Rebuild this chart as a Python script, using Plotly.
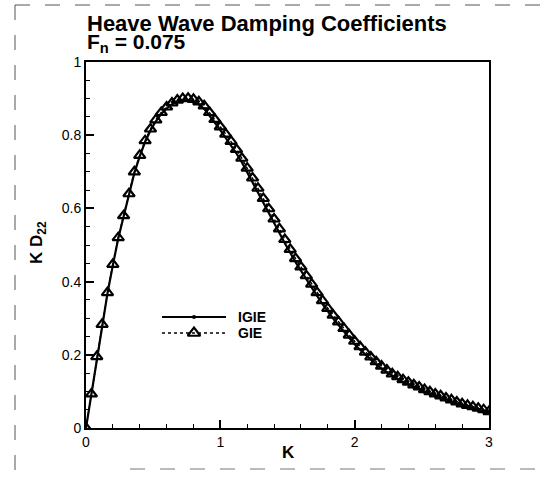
import plotly.graph_objects as go

# ---------------- data ----------------
k_values = [round(0.04 * i, 2) for i in range(76)]
gie = [0.000, 0.093, 0.195, 0.283, 0.370, 0.447, 0.520, 0.580, 0.640, 0.700,
       0.745, 0.785, 0.817, 0.842, 0.862, 0.877, 0.888, 0.896, 0.900, 0.901,
       0.898, 0.891, 0.880, 0.862, 0.843, 0.823, 0.803, 0.783, 0.761, 0.737,
       0.710, 0.683, 0.655, 0.627, 0.599, 0.571, 0.544, 0.515, 0.488, 0.463,
       0.440, 0.416, 0.393, 0.370, 0.348, 0.327, 0.308, 0.290, 0.272, 0.254,
       0.237, 0.222, 0.207, 0.194, 0.181, 0.169, 0.158, 0.148, 0.140, 0.132,
       0.125, 0.118, 0.112, 0.105, 0.099, 0.093, 0.088, 0.082, 0.077, 0.071,
       0.066, 0.062, 0.058, 0.054, 0.050, 0.045]
igie = [0.000, 0.092, 0.193, 0.281, 0.368, 0.445, 0.518, 0.578, 0.638, 0.697,
        0.742, 0.782, 0.813, 0.838, 0.858, 0.873, 0.884, 0.891, 0.895, 0.895,
        0.891, 0.884, 0.872, 0.854, 0.834, 0.814, 0.793, 0.772, 0.750, 0.726,
        0.699, 0.672, 0.644, 0.616, 0.588, 0.560, 0.533, 0.505, 0.478, 0.453,
        0.430, 0.406, 0.383, 0.361, 0.339, 0.318, 0.299, 0.281, 0.263, 0.246,
        0.229, 0.214, 0.200, 0.187, 0.174, 0.162, 0.152, 0.142, 0.134, 0.126,
        0.119, 0.112, 0.106, 0.100, 0.094, 0.088, 0.083, 0.077, 0.072, 0.067,
        0.062, 0.058, 0.054, 0.050, 0.046, 0.041]
series_names = ["IGIE", "GIE"]
x_ticks = [0, 1, 2, 3]
y_ticks = [0, 0.2, 0.4, 0.6, 0.8, 1]
y_tick_labels = ["0", "0.2", "0.4", "0.6", "0.8", "1"]
title_line1 = "Heave Wave Damping Coefficients"
title_line2 = "F<sub>n</sub> = 0.075"

# ---------------- layout constants ----------------
W, H = 545, 481
L, R, T, B = 86, 56, 62, 53
PW, PH = W - L - R, H - T - B
FONT = "Liberation Sans, Arial, Helvetica, sans-serif"


def px(x):
    return (x - L) / PW


def py(y):
    return (H - B - y) / PH


fig = go.Figure()

fig.add_trace(go.Scatter(
    x=k_values, y=igie, name=series_names[0], mode="lines",
    line=dict(color="black", width=2.2), showlegend=False,
))
fig.add_trace(go.Scatter(
    x=k_values, y=gie, name=series_names[1], mode="lines+markers",
    line=dict(color="black", width=1.5, dash="dot"),
    marker=dict(symbol="triangle-up-open", size=10, color="black",
                line=dict(width=2.2, color="black")),
    showlegend=False,
))

# legend drawn manually
leg_x0, leg_x1 = px(162), px(226)
for i, (name, yy) in enumerate(zip(series_names, [317, 333])):
    yp = py(yy)
    fig.add_shape(type="line", xref="paper", yref="paper",
                  x0=leg_x0, x1=leg_x1, y0=yp, y1=yp,
                  line=dict(color="black", width=2 if i == 0 else 1.5,
                            dash="solid" if i == 0 else "dot"))
    fig.add_annotation(xref="paper", yref="paper", x=px(236), y=yp,
                       text=f"<b>{name}</b>", showarrow=False,
                       xanchor="left", yanchor="middle",
                       font=dict(family=FONT, size=14, color="black"))
fig.add_trace(go.Scatter(
    x=[(194 - L) / PW * 3], y=[(H - B - 317) / PH], mode="markers",
    marker=dict(symbol="circle", size=4, color="black"),
    showlegend=False, hoverinfo="skip"))
fig.add_trace(go.Scatter(
    x=[(194 - L) / PW * 3], y=[(H - B - 333) / PH], mode="markers",
    marker=dict(symbol="triangle-up-open", size=11, color="black",
                line=dict(width=2.2, color="black")),
    showlegend=False, hoverinfo="skip"))

# titles
fig.add_annotation(xref="paper", yref="paper", x=px(85), y=py(23),
                   text=f"<b>{title_line1}</b>", showarrow=False,
                   xanchor="left", yanchor="middle",
                   font=dict(family=FONT, size=22, color="black"))
fig.add_annotation(xref="paper", yref="paper", x=px(85), y=py(43),
                   text=f"<b>{title_line2}</b>", showarrow=False,
                   xanchor="left", yanchor="middle",
                   font=dict(family=FONT, size=21, color="black"))

# axis titles
fig.add_annotation(xref="paper", yref="paper", x=px(288), y=py(452),
                   text="<b>K</b>", showarrow=False,
                   xanchor="center", yanchor="middle",
                   font=dict(family=FONT, size=17, color="black"))
fig.add_annotation(xref="paper", yref="paper", x=px(38), y=py(243),
                   text="<b>K D<sub>22</sub></b>", showarrow=False,
                   textangle=-90, xanchor="center", yanchor="middle",
                   font=dict(family=FONT, size=17, color="black"))

# scan frame lines
fig.add_shape(type="line", xref="paper", yref="paper",
              x0=px(15), x1=px(15), y0=py(5), y1=py(481),
              line=dict(color="#555555", width=1, dash="longdash"))
fig.add_shape(type="line", xref="paper", yref="paper",
              x0=px(15), x1=px(545), y0=py(5), y1=py(5),
              line=dict(color="#555555", width=1, dash="longdash"))
fig.add_shape(type="line", xref="paper", yref="paper",
              x0=px(130), x1=px(545), y0=py(469), y1=py(469),
              line=dict(color="#777777", width=1, dash="longdash"))

axis_common = dict(
    showgrid=False, zeroline=False, showline=True, linecolor="black",
    linewidth=2, mirror=True, ticks="inside", ticklen=8, tickwidth=2,
    tickcolor="black", tickfont=dict(family=FONT, size=14, color="black"),
)
fig.update_xaxes(range=[0, 3], tickvals=x_ticks,
                 minor=dict(dtick=0.2, ticks="inside", ticklen=4,
                            tickcolor="black", tickwidth=1),
                 **axis_common)
fig.update_yaxes(range=[0, 1], tickvals=y_ticks, ticktext=y_tick_labels,
                 minor=dict(dtick=0.05, ticks="inside", ticklen=4,
                            tickcolor="black", tickwidth=1),
                 **axis_common)

fig.update_layout(
    width=W, height=H,
    margin=dict(l=L, r=R, t=T, b=B, autoexpand=False),
    paper_bgcolor="white", plot_bgcolor="white",
    showlegend=False,
    font=dict(family=FONT, color="black"),
)

fig.write_html("out.html")
